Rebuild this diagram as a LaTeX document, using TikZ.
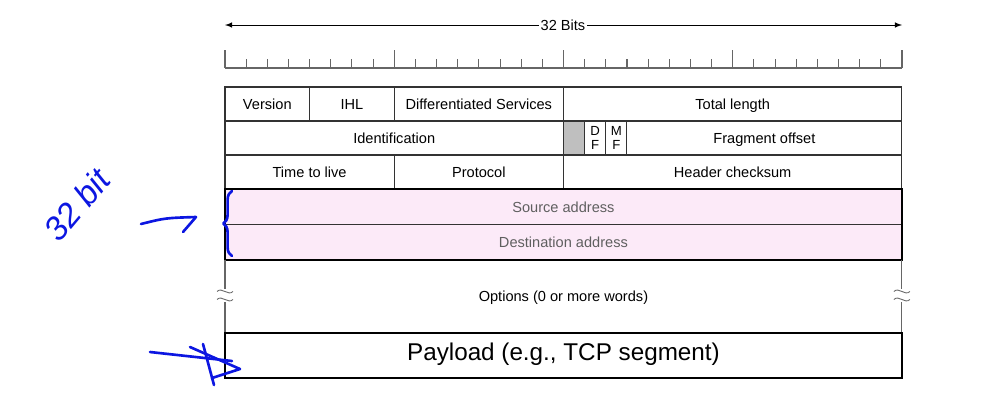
\documentclass[tikz,border=0pt]{standalone}
\usepackage{fontspec}
\setmainfont{Liberation Sans}
\usetikzlibrary{positioning,arrows,decorations.pathreplacing}
\definecolor{addrpink}{RGB}{252,234,248}
\definecolor{addrgray}{RGB}{95,95,95}
\definecolor{inkblue}{RGB}{12,22,225}
\def\bw{0.42312cm}

\begin{document}
\begin{tikzpicture}[
  x=0.02cm, y=-0.02cm,
  cell/.style={draw=black!80,line width=0.6pt,minimum height=0.68cm,inner sep=0pt,outer sep=0pt,
    anchor=north west},
  field/.style={cell,text height=1.6ex,text depth=0.45ex,font=\fontsize{8.3}{9}\selectfont},
  flag/.style={cell,minimum width=\bw,align=center,font=\fontsize{7.5}{7.8}\selectfont},
  addr/.style={field,fill=addrpink,minimum width=32*\bw,minimum height=0.71cm,text=addrgray},
  ruler/.style={draw=black!60,line width=0.6pt},
  ink/.style={draw=inkblue,line width=1.5pt,line cap=round,line join=round},
]
\useasboundingbox (0,0) rectangle (996,410);

% bit scale
\node[font=\fontsize{8.3}{9}\selectfont,inner sep=1pt] (bits) at (563,25) {32 Bits};
\coordinate (bitsL) at (225,25);
\coordinate (bitsR) at (902,25);
\draw[-latex] (bits) -- (bitsL);
\draw[-latex] (bits) -- (bitsR);
\draw[ruler] (225,68) -- (902,68);
\foreach \i in {0,...,32}{
  \pgfmathsetmacro\tick{mod(\i,8)==0 ? 50 : 59}
  \draw[ruler] (225+21.156*\i,\tick) -- (225+21.156*\i,68);
}

% header rows
\node[field,minimum width=4*\bw] (version) at (225,87) {Version};
\node[field,minimum width=4*\bw,right=0pt of version] (ihl) {IHL};
\node[field,minimum width=8*\bw,right=0pt of ihl] (dserv) {Differentiated Services};
\node[field,minimum width=16*\bw,right=0pt of dserv] (totlen) {Total length};

\node[field,minimum width=16*\bw] (ident) at (225,121) {Identification};
\node[flag,fill=black!25,right=0pt of ident] (resv) {};
\node[flag,right=0pt of resv] (df) {D\\F};
\node[flag,right=0pt of df] (mf) {M\\F};
\node[field,minimum width=13*\bw,right=0pt of mf] (fragoff) {Fragment offset};

\node[field,minimum width=8*\bw] (ttl) at (225,155) {Time to live};
\node[field,minimum width=8*\bw,right=0pt of ttl] (proto) {Protocol};
\node[field,minimum width=16*\bw,right=0pt of proto] (chksum) {Header checksum};

\node[addr] (src) at (225,189) {Source address};
\node[addr,below=0pt of src] (dst) {Destination address};
\draw[line width=1.2pt] (src.north west) rectangle (dst.south east);

% options
\node[field,draw=none,minimum width=32*\bw,minimum height=1.46cm,below=0pt of dst] (opts) {Options (0 or more words)};
\foreach \side in {west,east}{
  \draw[ruler] (opts.north \side) -- ++(0,29);
  \draw[ruler] (opts.south \side) -- ++(0,-31);
  \draw[ruler,line width=0.5pt] (opts.\side) ++(-8,-5) .. controls ++(5,-5) and ++(-5,5) .. ++(16,0);
  \draw[ruler,line width=0.5pt] (opts.\side) ++(-8,3) .. controls ++(5,-5) and ++(-5,5) .. ++(16,0);
}

\node[field,line width=1.2pt,draw=black,minimum width=32*\bw,minimum height=0.9cm,below=0pt of opts,
  font=\fontsize{13.8}{15}\selectfont] (payload) {Payload (e.g., TCP segment)};

% handwritten notes
\node[text=inkblue,rotate=50,font=\fontsize{19}{21}\itshape] (note) at (77,205) {32 bit};
\draw[ink,decorate,decoration={brace,amplitude=5pt}] (232,256) -- (232,191);
\coordinate (bracetip) at (196,217);
\coordinate (inktail) at (141,224);
\draw[ink] (inktail) .. controls (165,218) .. (bracetip) -- (183,232);
\coordinate (scribtail) at (150,352);
\draw[ink] (scribtail) -- (232,361);
\draw[ink] (190,347) -- (240,369) -- (212,378);
\draw[ink] (203,344) -- (214,385);
\end{tikzpicture}
\end{document}
